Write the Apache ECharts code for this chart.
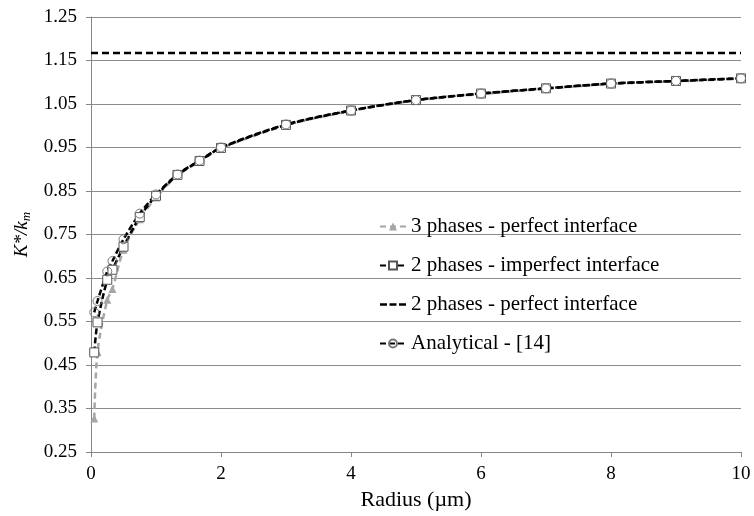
<!DOCTYPE html>
<html><head><meta charset="utf-8">
<script src="https://cdn.jsdelivr.net/npm/echarts@6/dist/echarts.min.js"></script>
<style>html,body{margin:0;padding:0;background:#fff}#c{width:754px;height:516px}</style>
</head><body><div id="c"></div>
<script>
const radius = [0.05, 0.1, 0.25, 0.33, 0.5, 0.75, 1, 1.33, 1.67, 2, 3, 4, 5, 6, 7, 8, 9, 10];
const threePhasesPerfect = [0.327, 0.48, 0.60, 0.625, 0.715, 0.785, 0.835, 0.886, 0.918, 0.948, 1.001, 1.034, 1.058, 1.073, 1.085, 1.096, 1.102, 1.108];
const twoPhasesImperfect = [0.479, 0.548, 0.646, 0.669, 0.722, 0.790, 0.839, 0.887, 0.919, 0.949, 1.002, 1.035, 1.059, 1.074, 1.086, 1.097, 1.103, 1.109];
const twoPhasesPerfectX = [0, 10];
const twoPhasesPerfect = [1.1675, 1.1675];
const analytical = [0.571, 0.597, 0.665, 0.689, 0.739, 0.798, 0.842, 0.888, 0.920, 0.950, 1.003, 1.035, 1.059, 1.074, 1.086, 1.097, 1.103, 1.109];
const names = ['3 phases - perfect interface', '2 phases - imperfect interface', '2 phases - perfect interface', 'Analytical - [14]'];

const pair = (xs, ys) => xs.map((x, i) => [x, ys[i]]);
const font = '"Liberation Serif", "Times New Roman", serif';
const chart = echarts.init(document.getElementById('c'));
chart.setOption({
  animation: false,
  textStyle: { fontFamily: font },
  grid: { left: 91, right: 13, top: 17, bottom: 59 },
  legend: {
    orient: 'vertical', left: 374, top: 211,
    itemWidth: 26, itemHeight: 10, itemGap: 18,
    textStyle: { fontFamily: font, fontSize: 21, color: '#000' },
    data: [names[0], names[1],
      { name: names[2], icon: 'path://M0,4h7v2.5h-7z M9.5,4h7v2.5h-7z M19,4h7v2.5h-7z', itemStyle: { color: '#000' } },
      names[3]]
  },
  xAxis: {
    type: 'value', min: 0, max: 10, interval: 2,
    name: 'Radius (µm)', nameLocation: 'middle', nameGap: 37,
    nameTextStyle: { fontFamily: font, fontSize: 22, color: '#000' },
    axisLine: { lineStyle: { color: '#868686', width: 1 } },
    axisTick: { show: true, length: 5, lineStyle: { color: '#868686' } },
    axisLabel: { fontFamily: font, fontSize: 19, color: '#000', margin: 13 },
    splitLine: { show: false }
  },
  yAxis: {
    type: 'value', min: 0.25, max: 1.25, interval: 0.1,
    name: '{i|K*/k}{s|m}', nameLocation: 'middle', nameGap: 46,
    nameTextStyle: {
      rich: {
        i: { fontFamily: font, fontStyle: 'italic', fontSize: 19, color: '#000' },
        s: { fontFamily: font, fontStyle: 'italic', fontSize: 13, color: '#000', padding: [8, 0, 0, 0] }
      }
    },
    axisLine: { show: true, lineStyle: { color: '#868686', width: 1 } },
    axisTick: { show: true, length: 5, lineStyle: { color: '#868686' } },
    axisLabel: { fontFamily: font, fontSize: 19, color: '#000', margin: 14, formatter: v => v.toFixed(2) },
    splitLine: { lineStyle: { color: '#8c8c8c', width: 1 } }
  },
  series: [
    {
      name: names[0], type: 'line', smooth: 0.3, data: pair(radius, threePhasesPerfect),
      symbol: 'triangle', symbolSize: 8,
      itemStyle: { color: '#a6a6a6' },
      lineStyle: { color: '#a6a6a6', width: 2.5, type: [6, 4] }
    },
    {
      name: names[1], type: 'line', smooth: 0.3, data: pair(radius, twoPhasesImperfect),
      symbol: 'rect', symbolSize: 9,
      itemStyle: { color: '#fff', borderColor: '#555', borderWidth: 1 },
      lineStyle: { color: '#000', width: 2.5, type: [6, 3] }
    },
    {
      name: names[2], type: 'line', data: pair(twoPhasesPerfectX, twoPhasesPerfect),
      symbol: 'none', showSymbol: false,
      itemStyle: { color: '#000' },
      lineStyle: { color: '#000', width: 2.5, type: [7, 4] }
    },
    {
      name: names[3], type: 'line', smooth: 0.3, data: pair(radius, analytical),
      symbol: 'circle', symbolSize: 9,
      itemStyle: { color: 'rgba(255,255,255,0)', borderColor: '#777', borderWidth: 1 },
      lineStyle: { color: '#000', width: 2.5, type: [6, 3] }
    }
  ]
});
</script></body></html>
